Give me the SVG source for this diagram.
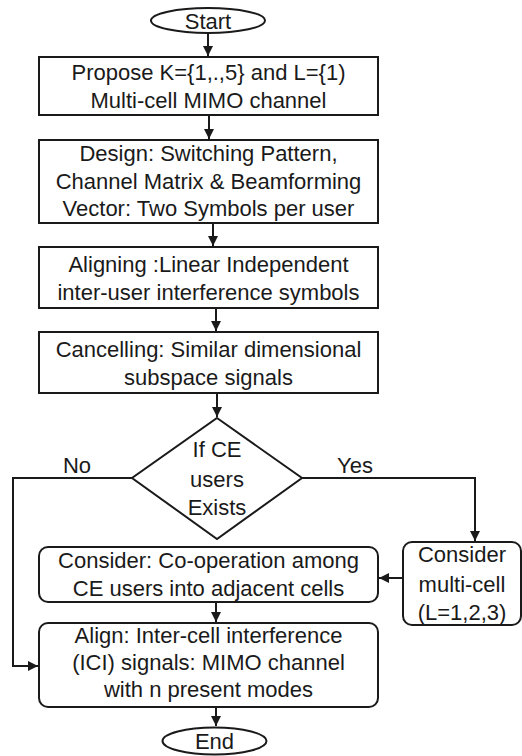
<svg xmlns="http://www.w3.org/2000/svg" width="522" height="756" viewBox="0 0 522 756">
  <style>
    .shape { fill: #ffffff; stroke: #1a1a1a; stroke-width: 2; }
    .label { font-family: "Liberation Sans", Arial, sans-serif; font-size: 22px; fill: #1a1a1a; text-anchor: middle; }
    .link { fill: none; stroke: #1a1a1a; stroke-width: 2; }
  </style>
  <defs>
    <marker id="arrow" viewBox="0 0 10 10" refX="10" refY="5" markerWidth="5" markerHeight="5" orient="auto" markerUnits="strokeWidth">
      <path d="M0,0 L10,5 L0,10 Z" fill="#1a1a1a"/>
    </marker>
  </defs>
  <rect width="522" height="756" fill="#ffffff"/>

  <!-- connectors -->
  <g id="connectors">
    <line class="link" x1="208" y1="33" x2="208" y2="56" marker-end="url(#arrow)"/>
    <line class="link" x1="209" y1="115" x2="209" y2="139" marker-end="url(#arrow)"/>
    <line class="link" x1="213" y1="223" x2="213" y2="246" marker-end="url(#arrow)"/>
    <line class="link" x1="216" y1="308" x2="216" y2="331" marker-end="url(#arrow)"/>
    <line class="link" x1="217" y1="393" x2="217" y2="417" marker-end="url(#arrow)"/>
    <polyline class="link" points="302,478 475,478 475,541" marker-end="url(#arrow)"/>
    <polyline class="link" points="132,478 13,478 13,666 38,666" marker-end="url(#arrow)"/>
    <line class="link" x1="403" y1="578" x2="379" y2="578" marker-end="url(#arrow)"/>
    <line class="link" x1="216" y1="602" x2="216" y2="622" marker-end="url(#arrow)"/>
    <line class="link" x1="216" y1="707" x2="216" y2="726" marker-end="url(#arrow)"/>
    <text class="label" x="77" y="473">No</text>
    <text class="label" x="355" y="473">Yes</text>
  </g>

  <g id="start">
    <ellipse class="shape" cx="208" cy="20.5" rx="57" ry="12.5"/>
    <text class="label" x="208" y="29">Start</text>
  </g>

  <g id="propose">
    <rect class="shape" x="39" y="57" width="339" height="58"/>
    <text class="label" x="208.5" y="80">Propose K={1,.,5} and L={1)</text>
    <text class="label" x="208.5" y="108">Multi-cell MIMO channel</text>
  </g>

  <g id="design">
    <rect class="shape" x="39" y="140" width="339" height="83"/>
    <text class="label" x="208.5" y="161">Design: Switching Pattern,</text>
    <text class="label" x="208.5" y="189">Channel Matrix &amp; Beamforming</text>
    <text class="label" x="208.5" y="216">Vector: Two Symbols per user</text>
  </g>

  <g id="aligning">
    <rect class="shape" x="39" y="247" width="339" height="61"/>
    <text class="label" x="208.5" y="272">Aligning :Linear Independent</text>
    <text class="label" x="208.5" y="300">inter-user interference symbols</text>
  </g>

  <g id="cancelling">
    <rect class="shape" x="39" y="332" width="339" height="61"/>
    <text class="label" x="208.5" y="357">Cancelling: Similar dimensional</text>
    <text class="label" x="208.5" y="385">subspace signals</text>
  </g>

  <g id="decision">
    <polygon class="shape" points="217,418 302,478 217,539 132,478"/>
    <text class="label" x="217" y="457">If CE</text>
    <text class="label" x="217" y="487">users</text>
    <text class="label" x="217" y="515">Exists</text>
  </g>

  <g id="multicell">
    <rect class="shape" x="403" y="542" width="118" height="83" rx="9" ry="9"/>
    <text class="label" x="462" y="562">Consider</text>
    <text class="label" x="462" y="592">multi-cell</text>
    <text class="label" x="462" y="620">(L=1,2,3)</text>
  </g>

  <g id="cooperation">
    <rect class="shape" x="39" y="547" width="339" height="55" rx="9" ry="9"/>
    <text class="label" x="208.5" y="568">Consider: Co-operation among</text>
    <text class="label" x="208.5" y="596">CE users into adjacent cells</text>
  </g>

  <g id="align-ici">
    <rect class="shape" x="39" y="623" width="339" height="84" rx="9" ry="9"/>
    <text class="label" x="208.5" y="643">Align: Inter-cell interference</text>
    <text class="label" x="208.5" y="670">(ICI) signals: MIMO channel</text>
    <text class="label" x="208.5" y="697">with n present modes</text>
  </g>

  <g id="end">
    <ellipse class="shape" cx="214.5" cy="741" rx="52" ry="13.5"/>
    <text class="label" x="214.5" y="749">End</text>
  </g>
</svg>
